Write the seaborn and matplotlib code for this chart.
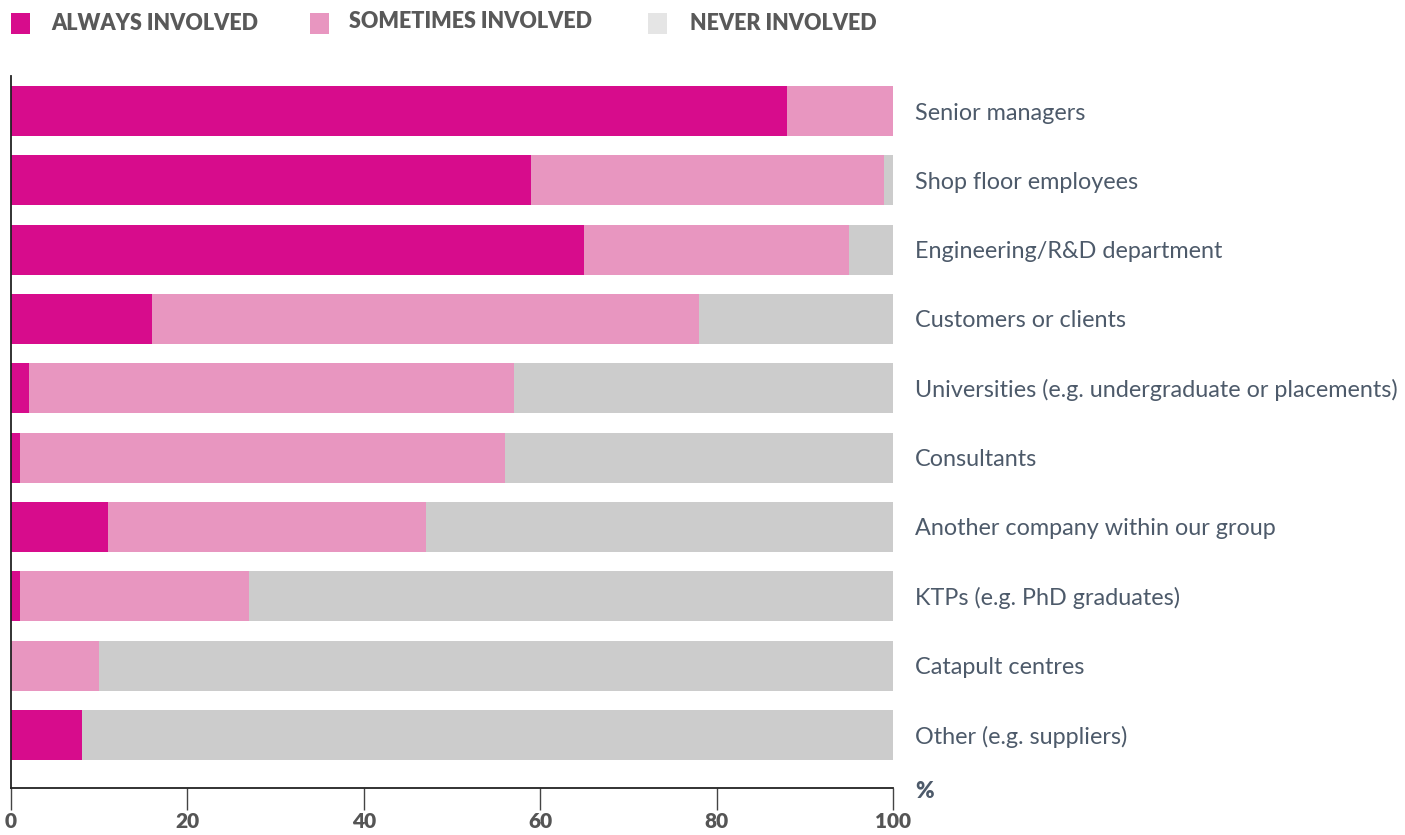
import matplotlib
matplotlib.use("Agg")
import matplotlib.pyplot as plt
from matplotlib.patches import Rectangle
import seaborn as sns
import pandas as pd
import numpy as np

categories = ["Senior managers", "Shop floor employees", "Engineering/R&D department",
              "Customers or clients", "Universities (e.g. undergraduate or placements)",
              "Consultants", "Another company within our group", "KTPs (e.g. PhD graduates)",
              "Catapult centres", "Other (e.g. suppliers)"]
always = [88, 59, 65, 16, 2, 1, 11, 1, 0, 8]
sometimes = [12, 40, 30, 62, 55, 55, 36, 26, 10, 0]
never = [0, 1, 5, 22, 43, 44, 53, 73, 90, 92]
series_names = ["ALWAYS INVOLVED", "SOMETIMES INVOLVED", "NEVER INVOLVED"]
xticks = [0, 20, 40, 60, 80, 100]

C_ALWAYS = "#D70C8C"
C_SOME = "#E896C0"
C_NEVER = "#CCCCCC"
C_NEVER_LEG = "#E5E5E5"

sns.set_style("white")
plt.rcParams['font.family'] = ['Lato', 'DejaVu Sans']

W, H = 1405, 835
fig = plt.figure(figsize=(W / 100, H / 100), dpi=100)
ax_l, ax_r, ax_t, ax_b = 11, 893, 76, 788
ax = fig.add_axes([ax_l / W, 1 - ax_b / H, (ax_r - ax_l) / W, (ax_b - ax_t) / H])

df = pd.DataFrame({"cat": categories,
                   "a": np.array(always),
                   "as": np.array(always) + np.array(sometimes),
                   "all": np.array(always) + np.array(sometimes) + np.array(never)})

sns.barplot(data=df, y="cat", x="all", color=C_NEVER, orient="h", width=0.72,
            saturation=1, ax=ax, linewidth=0)
sns.barplot(data=df, y="cat", x="as", color=C_SOME, orient="h", width=0.72,
            saturation=1, ax=ax, linewidth=0)
sns.barplot(data=df, y="cat", x="a", color=C_ALWAYS, orient="h", width=0.72,
            saturation=1, ax=ax, linewidth=0)

ax.set_xlim(0, 100)
ax.set_ylim(9.765, -0.505)
ax.set_xlabel("")
ax.set_ylabel("")

for s in ["top", "right"]:
    ax.spines[s].set_visible(False)
for s in ["left", "bottom"]:
    ax.spines[s].set_color("#222222")
    ax.spines[s].set_linewidth(1.3)

ax.set_xticks(xticks)
ax.set_xticklabels([str(t) for t in xticks], fontsize=15, fontweight="heavy", color="#555555")
ax.tick_params(axis="x", direction="out", length=16, width=1.0, color="#444444", pad=1, bottom=True)

ax.yaxis.tick_right()
ax.tick_params(axis="y", length=0, pad=16, labelsize=16.8, labelcolor="#4D5A6A")

fig.text(915 / W, 1 - 791 / H, "%", fontsize=16, fontweight="heavy", color="#4D5A6A",
         ha="left", va="center")

# legend
leg = [(11, 51, C_ALWAYS, series_names[0], 24),
       (310, 349, C_SOME, series_names[1], 22),
       (648, 690, C_NEVER_LEG, series_names[2], 24)]
for sx, tx, col, name, ty in leg:
    fig.add_artist(Rectangle((sx / W, 1 - 34 / H), 19 / W, 21 / H, transform=fig.transFigure,
                             facecolor=col, edgecolor="none"))
    fig.text(tx / W, 1 - ty / H, name, fontsize=15.5, fontweight="heavy", color="#595959",
             ha="left", va="center")

fig.savefig("out.png", dpi=100)
